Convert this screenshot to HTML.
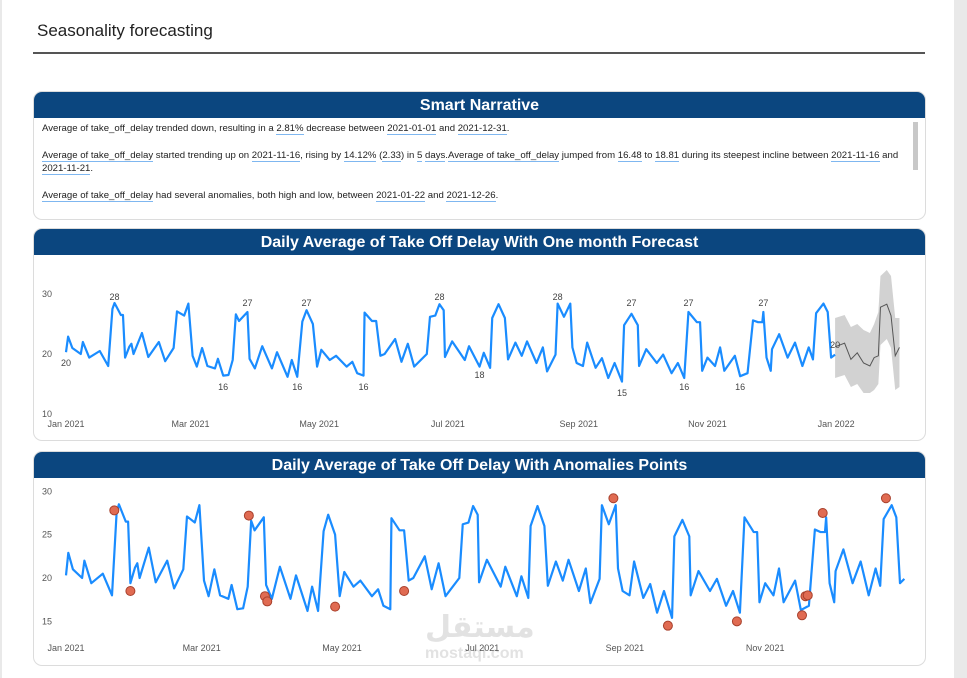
<!DOCTYPE html>
<html><head><meta charset="utf-8">
<style>
body{margin:0;width:967px;height:678px;background:#fff;font-family:"Liberation Sans",sans-serif;position:relative;overflow:hidden}
.edge{position:absolute;top:0;bottom:0;background:#e9e9e9}
.card{position:absolute;left:33px;width:891px;border:1px solid #dcdcdc;border-radius:9px;background:#fff;overflow:hidden}
.hdr{background:#0b467f;color:#fff;font-weight:bold;font-size:16px;text-align:center;height:26px;line-height:27px}
.nar{font-size:9.6px;color:#222;padding:4px 8px 0 8px;line-height:13px;width:860px}
.nar p{margin:0 0 14px 0}
.u{border-bottom:1px solid #7fb7f0}
</style></head><body>
<div class="edge" style="left:0;width:2px"></div>
<div class="edge" style="right:0;width:13px"></div>
<div style="position:absolute;left:37px;top:21px;font-size:17px;color:#222">Seasonality forecasting</div>
<div style="position:absolute;left:33px;top:52px;width:892px;height:2px;background:#555"></div>

<div class="card" style="top:91px;height:127px">
<div class="hdr">Smart Narrative</div>
<div style="position:absolute;left:879px;top:30px;width:5px;height:48px;background:#c8c8c8"></div>
<div class="nar">
<p>Average of take_off_delay trended down, resulting in a <span class="u">2.81%</span> decrease between <span class="u">2021-01-01</span> and <span class="u">2021-12-31</span>.</p>
<p><span class="u">Average of take_off_delay</span> started trending up on <span class="u">2021-11-16</span>, rising by <span class="u">14.12%</span> (<span class="u">2.33</span>) in <span class="u">5</span> <span class="u">days</span>.<span class="u">Average of take_off_delay</span> jumped from <span class="u">16.48</span> to <span class="u">18.81</span> during its steepest incline between <span class="u">2021-11-16</span> and <span class="u">2021-11-21</span>.</p>
<p><span class="u">Average of take_off_delay</span> had several anomalies, both high and low, between <span class="u">2021-01-22</span> and <span class="u">2021-12-26</span>.</p>
</div></div>

<div class="card" style="top:228px;height:211px">
<div class="hdr">Daily Average of Take Off Delay With One month Forecast</div></div>
<div class="card" style="top:451px;height:213px">
<div class="hdr">Daily Average of Take Off Delay With Anomalies Points</div></div>

<div style="position:absolute;left:425px;top:610px;color:#e2e2e2;font-size:30px;font-weight:bold;font-family:'Liberation Sans','DejaVu Sans',sans-serif">مستقل</div>
<div style="position:absolute;left:425px;top:645px;color:#e2e2e2;font-size:16px;font-weight:bold">mostaql.com</div>

<svg id="svg" width="967" height="678" style="position:absolute;left:0;top:0"></svg>
<script>
const days=[0,1,3,7,8,11,16,20,22,23,26,27,28,30,31,32,36,39,44,47,51,52.6,56,58,60,62,64.5,67,70.6,72,74.5,77,79,80.5,82,86,87,89.5,93,97.6,100,105,107,109.6,112,114,117,119,121,125,128,133,135.7,138,141,141.5,145,147,149,151,156,159,162,165,171,172.5,175,177,179,179.6,183,189,191,196,198,201,202,205,208,209.5,213,216,218.5,223,226,228,232,233,236,239,240,242,245,247,251,254,257,260,263.5,264.5,268,271,271.6,275,280,283,287,290,293,295,299,300.5,301.5,304,307.6,310,312,317,319.5,323,325.6,328,330,330.5,332,334,334.6,338,342,345.5,349,352,354,355.5,359,361,362.6,364.5];
const values=[20.3,22.9,21,20,22,19.4,20.5,18,27.5,28.5,26.5,26.5,19.4,21.2,21.7,20,23.5,19.5,22,18.8,21,27.1,26.4,28.4,19.7,17.9,21,18,17.6,19.2,16.4,16.5,19,26.6,25.5,27,19.2,17.6,21.3,17.6,20.3,16.2,19,16.2,25.4,27.3,25,17.9,20.7,19,19.7,17.9,18.7,16.8,16.4,26.9,25.5,25.5,19.7,20,22.5,18.7,21.7,17.9,20,26.2,26.4,28.3,27.3,19.5,22.1,19,21.3,17.9,20.2,17.7,26,28.3,26,19.1,21.9,19.7,22.1,18.5,21.1,17.1,19.9,28.4,26.2,28.4,21.1,18.5,18,21.9,17.7,19.3,16,18.5,15.4,24.8,26.7,24.8,18,20.8,18.5,19.9,16.8,18.5,16,27,25.3,25.3,17.2,19.4,18,21.1,17.2,19.7,16.3,16.8,25.6,25.3,25.3,27,19.4,17.2,20.8,23.3,19.4,21.9,18,21.1,19.1,26.8,28.4,27,19.4,19.9];
const fcDays=[364.5,369,372,375,378,381,383,385,386,389,391,393,395];
const fcValues=[21.2,21.8,19.1,20.2,18.5,18,19.4,19.7,27.8,28.3,26.4,19.7,21.1];
const fcUpper=[26,26.5,24.5,25,24,23.5,25,27,33,34,33,26,26];
const fcLower=[16,16.5,14.5,15,13.5,13.5,14,15,21.5,22.5,21,14,14.5];
const labelDays=[0,23,86,114,74.5,109.6,141,177,196,233,268,295,330.5,263.5,293,319.5,364.5];
const labelVals=[20,28,27,27,16,16,16,28,18,28,27,27,27,15,16,16,20];
const labelBelow=[1,0,0,0,1,1,1,0,1,0,0,0,0,1,1,1,0];
const anomDays=[21,28,79.5,86.5,87.5,117,147,238,261.7,291.7,320,321.5,322.5,329,356.5];
const anomVals=[27.8,18.5,27.2,17.9,17.3,16.7,18.5,29.2,14.5,15,15.7,17.9,18.0,27.5,29.2];
const ticks1=[30,20,10], ticks2=[30,25,20,15];
const months1=["Jan 2021","Mar 2021","May 2021","Jul 2021","Sep 2021","Nov 2021","Jan 2022"];
const monthDays1=[0,59,120,181,243,304,365];
const months2=["Jan 2021","Mar 2021","May 2021","Jul 2021","Sep 2021","Nov 2021"];
const monthDays2=[0,59,120,181,243,304];

const NS="http://www.w3.org/2000/svg",svg=document.getElementById('svg');
function mk(t,a,txt){const e=document.createElementNS(NS,t);for(const k in a)e.setAttribute(k,a[k]);if(txt!=null)e.textContent=txt;svg.appendChild(e);return e;}
const x1=d=>66+d*2.11, y1=v=>354-(v-20)*6;
const x2=d=>66+d*2.3, y2=v=>578-(v-20)*8.67;
ticks1.forEach(t=>{const e=mk('text',{x:52,y:y1(t)+3,'text-anchor':'end','font-size':9,fill:'#555'},t);

});
months1.forEach((m,i)=>{const e=mk('text',{x:x1(monthDays1[i]),y:427,'text-anchor':'middle','font-size':9,fill:'#555'},m);

});
let band='M'+fcDays.map((d,i)=>x1(d)+','+y1(fcUpper[i])).join('L')+'L'+fcDays.slice().reverse().map((d,i)=>x1(d)+','+y1(fcLower[fcDays.length-1-i])).join('L')+'Z';
let b=mk('path',{d:band,fill:'#d2d2d2'});


let fl=mk('polyline',{points:fcDays.map((d,i)=>x1(d)+','+y1(fcValues[i])).join(' '),fill:'none',stroke:'#555','stroke-width':1});


let l1=mk('polyline',{points:days.map((d,i)=>x1(d)+','+y1(values[i])).join(' '),fill:'none',stroke:'#1a8cff','stroke-width':2.2,'stroke-linejoin':'round'});


labelDays.forEach((d,i)=>{const e=mk('text',{x:x1(d),y:labelBelow[i]?y1(labelVals[i])+12:y1(labelVals[i])-6,'text-anchor':'middle','font-size':9,fill:'#444'},labelVals[i]);

});
ticks2.forEach(t=>{const e=mk('text',{x:52,y:y2(t)+3,'text-anchor':'end','font-size':9,fill:'#555'},t);

});
months2.forEach((m,i)=>{const e=mk('text',{x:x2(monthDays2[i]),y:651,'text-anchor':'middle','font-size':9,fill:'#555'},m);

});
let l2=mk('polyline',{points:days.map((d,i)=>x2(d)+','+y2(values[i])).join(' '),fill:'none',stroke:'#1a8cff','stroke-width':2.2,'stroke-linejoin':'round'});


anomDays.forEach((d,i)=>{const e=mk('circle',{cx:x2(d),cy:y2(anomVals[i]),r:4.5,fill:'#e06b52',stroke:'#a8402c','stroke-width':1});

});
</script>
</body></html>
